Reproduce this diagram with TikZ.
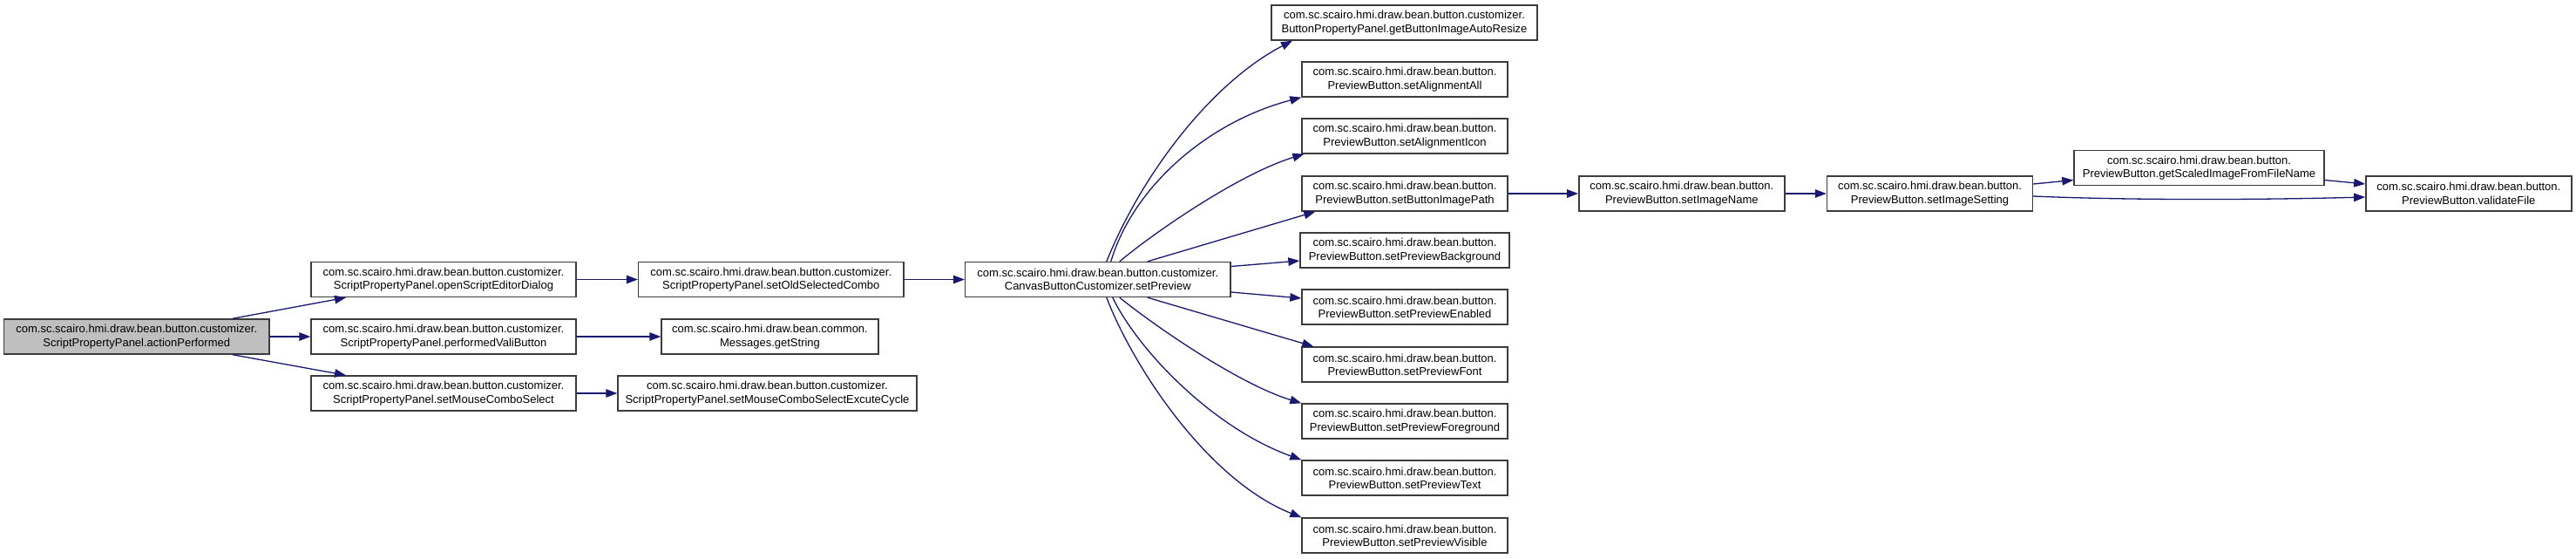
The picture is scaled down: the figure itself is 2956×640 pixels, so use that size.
\documentclass[tikz,border=0pt]{standalone}
\usepackage{fontspec}
\setsansfont{Liberation Sans}
\usetikzlibrary{arrows.meta}
\definecolor{callblue}{RGB}{25,25,112}
\definecolor{rootgray}{RGB}{191,191,191}
\definecolor{framegray}{RGB}{60,60,60}
\tikzset{
  >={Triangle[length=13pt,width=9.5pt]},
  call/.style={->,line width=1.3pt,draw=callblue},
  fn/.style={
    draw=framegray,
    fill=white,
    line width=1.4pt,
    align=center,
    inner sep=0pt,
    minimum height=40pt,
    font=\sffamily\fontsize{13}{15.3}\selectfont
  },
  root fn/.style={fn,fill=rootgray},
  preview fn/.style={fn,minimum width=236pt}
}

\begin{document}
\begin{tikzpicture}[x=1pt,y=-1pt]
  \useasboundingbox (0,0) rectangle (2956,640);

  % caller and first level
  \node[root fn,minimum width=304.5pt] (root) at (156.8,386)
    {com.sc.scairo.hmi.draw.bean.button.customizer.\\ScriptPropertyPanel.actionPerformed};
  \node[fn,minimum width=304pt] (open) at (509,320.5)
    {com.sc.scairo.hmi.draw.bean.button.customizer.\\ScriptPropertyPanel.openScriptEditorDialog};
  \node[fn,minimum width=304pt] (vali) at (509,386)
    {com.sc.scairo.hmi.draw.bean.button.customizer.\\ScriptPropertyPanel.performedValiButton};
  \node[fn,minimum width=304pt] (mouse) at (509,451)
    {com.sc.scairo.hmi.draw.bean.button.customizer.\\ScriptPropertyPanel.setMouseComboSelect};

  % second level
  \node[fn,minimum width=304.5pt] (old) at (884.8,320.5)
    {com.sc.scairo.hmi.draw.bean.button.customizer.\\ScriptPropertyPanel.setOldSelectedCombo};
  \node[fn,minimum width=249pt] (msgs) at (883.5,386)
    {com.sc.scairo.hmi.draw.bean.common.\\Messages.getString};
  \node[fn,minimum width=343pt] (cycle) at (880.5,451)
    {com.sc.scairo.hmi.draw.bean.button.customizer.\\ScriptPropertyPanel.setMouseComboSelectExcuteCycle};
  \node[fn,minimum width=304.5pt] (sp) at (1259.8,320.5)
    {com.sc.scairo.hmi.draw.bean.button.customizer.\\CanvasButtonCustomizer.setPreview};

  % callees of setPreview
  \node[fn,minimum width=305pt] (b1) at (1611.5,26)
    {com.sc.scairo.hmi.draw.bean.button.customizer.\\ButtonPropertyPanel.getButtonImageAutoResize};
  \foreach \n/\y/\m in {b2/91/setAlignmentAll,b3/156/setAlignmentIcon,
      b4/222/setButtonImagePath,b6/352/setPreviewEnabled,b7/418/setPreviewFont,
      b8/483/setPreviewForeground,b9/548/setPreviewText,b10/614/setPreviewVisible}
    \node[preview fn] (\n) at (1612,\y)
      {com.sc.scairo.hmi.draw.bean.button.\\PreviewButton.\m};
  \node[preview fn,minimum width=240pt] (b5) at (1612,287)
    {com.sc.scairo.hmi.draw.bean.button.\\PreviewButton.setPreviewBackground};

  % image chain
  \node[preview fn] (img) at (1929.8,222)
    {com.sc.scairo.hmi.draw.bean.button.\\PreviewButton.setImageName};
  \node[preview fn] (set) at (2214.5,222)
    {com.sc.scairo.hmi.draw.bean.button.\\PreviewButton.setImageSetting};
  \node[fn,minimum width=287pt] (scaled) at (2523.5,192.5)
    {com.sc.scairo.hmi.draw.bean.button.\\PreviewButton.getScaledImageFromFileName};
  \node[preview fn] (valid) at (2832.8,222)
    {com.sc.scairo.hmi.draw.bean.button.\\PreviewButton.validateFile};

  % straight calls
  \foreach \a/\b in {root/vali,open/old,vali/msgs,mouse/cycle,old/sp,b4/img,img/set}
    \draw[call] (\a.east) -- (\b.west);
  \draw[call] ([xshift=110pt]root.north) -- ([xshift=-112pt]open.south);
  \draw[call] ([xshift=110pt]root.south) -- ([xshift=-112pt]mouse.north);

  % fan out of setPreview
  \draw[call] ([xshift=10pt]sp.north) .. controls (1310,200) and (1390,95) .. ([xshift=-128.5pt]b1.south);
  \draw[call] ([xshift=15pt]sp.north) .. controls (1300,215) and (1385,140) .. (b2.south west);
  \draw[call] ([xshift=25pt]sp.north) .. controls (1320,270) and (1420,200) .. ([xshift=3pt]b3.south west);
  \draw[call] ([xshift=57pt]sp.north) -- ([xshift=16pt]b4.south west);
  \draw[call] ([yshift=15pt]sp.east) -- ([yshift=-12pt]b5.west);
  \draw[call] ([yshift=-14.5pt]sp.east) -- ([yshift=10pt]b6.west);
  \draw[call] ([xshift=57pt]sp.south) -- ([xshift=14pt]b7.north west);
  \draw[call] ([xshift=25pt]sp.south) .. controls (1320,370) and (1420,440) .. (b8.north west);
  \draw[call] ([xshift=17pt]sp.south) .. controls (1305,400) and (1390,490) .. (b9.north west);
  \draw[call] ([xshift=10pt]sp.south) .. controls (1300,420) and (1385,550) .. (b10.north west);

  % setImageSetting calls
  \draw[call] ([yshift=11pt]set.east) -- ([yshift=-14pt]scaled.west);
  \draw[call] ([yshift=-3pt]set.east) .. controls (2450,230) and (2600,229) .. ([yshift=-4pt]valid.west);
  \draw[call] ([yshift=-14pt]scaled.east) -- ([yshift=11pt]valid.west);
\end{tikzpicture}
\end{document}
